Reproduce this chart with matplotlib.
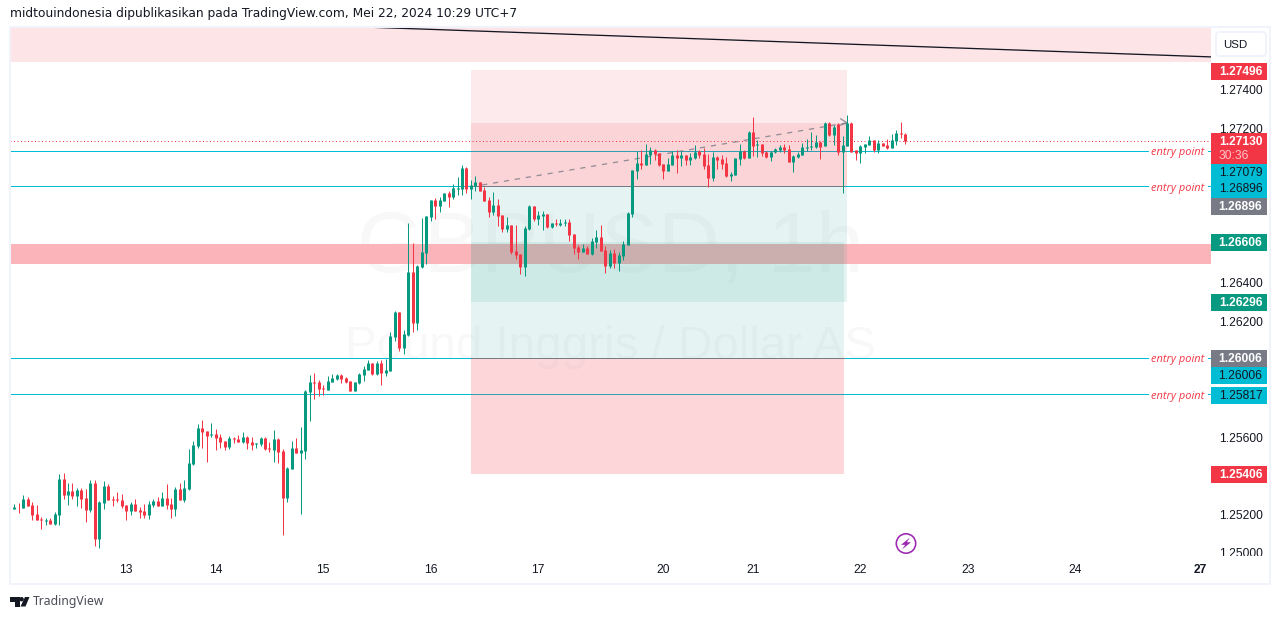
import numpy as np
from matplotlib import pyplot as plt
from matplotlib.patches import Rectangle, FancyBboxPatch, Circle, Polygon
from matplotlib.transforms import ScaledTranslation

# GBPUSD 1h candles, in 1/100000 of a price unit
opens = [125224,125234,125229,125276,125245,125198,125172,125162,125167,125146,
         125193,125380,125297,125317,125292,125323,125281,125219,125359,125069,
         125255,125343,125276,125276,125271,125245,125214,125250,125219,125214,
         125193,125245,125266,125240,125281,125250,125224,125328,125271,125328,
         125457,125550,125644,125628,125607,125613,125597,125576,125545,125592,
         125587,125571,125597,125571,125561,125561,125592,125540,125530,125587,
         125525,125281,125431,125540,125514,125525,125830,125882,125882,125851,
         125841,125882,125898,125918,125903,125887,125836,125877,125918,125944,
         125981,125924,125981,125929,125939,126115,126245,126058,126126,126452,
         126188,126478,126550,126737,126825,126794,126820,126861,126841,126882,
         126882,126991,126882,126898,126918,126877,126825,126763,126799,126747,
         126675,126695,126561,126545,126478,126675,126794,126727,126743,126753,
         126686,126706,126696,126706,126711,126649,126582,126556,126577,126546,
         126608,126634,126566,126483,126551,126499,126535,126592,126753,126976,
         127017,127007,127058,127084,127069,127012,126976,127007,127058,127043,
         127058,127033,127043,127079,127064,127007,126939,127048,127037,127017,
         126949,126954,127037,127079,127043,127177,127110,127115,127074,127048,
         127074,127084,127100,127089,127022,127048,127058,127094,127100,127100,
         127125,127105,127224,127162,127219,127074,127105,127224,127084,127068,
         127100,127110,127136,127084,127120,127110,127094,127131,127172,127167]
highs = [125250,125253,125297,125286,125260,125245,125181,125176,125178,125209,
         125405,125411,125359,125359,125333,125333,125328,125374,125374,125264,
         125369,125354,125292,125312,125302,125245,125260,125276,125234,125250,
         125266,125276,125286,125312,125354,125281,125338,125359,125374,125535,
         125576,125664,125685,125628,125670,125639,125613,125576,125602,125597,
         125607,125623,125602,125597,125564,125597,125597,125571,125633,125592,
         125535,125442,125576,125592,125649,125841,125918,125929,125892,125867,
         125913,125924,125924,125924,125908,125887,125882,125929,125965,125996,
         125981,125991,125996,126001,126141,126250,126245,126152,126706,126602,
         126488,126732,126742,126825,126835,126841,126861,126872,126908,126944,
         127006,126996,126929,126949,126918,126892,126841,126866,126830,126747,
         126737,126695,126695,126545,126690,126799,126794,126768,126768,126753,
         126706,126727,126727,126727,126727,126649,126592,126597,126587,126629,
         126670,126696,126587,126566,126572,126556,126613,126763,126981,127079,
         127084,127115,127100,127090,127069,127012,127043,127079,127084,127079,
         127058,127069,127110,127084,127095,127064,127074,127053,127058,127048,
         126970,127043,127115,127084,127182,127255,127136,127115,127079,127079,
         127094,127110,127115,127110,127058,127074,127120,127141,127177,127162,
         127131,127229,127229,127213,127224,127156,127265,127229,127084,127110,
         127115,127156,127136,127136,127120,127141,127167,127188,127229,127172]
lows = [125224,125203,125229,125240,125167,125167,125121,125141,125146,125141,
        125141,125276,125245,125276,125240,125229,125157,125209,125032,125022,
        125224,125271,125240,125260,125229,125167,125193,125214,125178,125178,
        125172,125234,125240,125240,125224,125178,125188,125271,125260,125323,
        125452,125540,125540,125468,125597,125530,125540,125530,125535,125566,
        125571,125566,125535,125530,125540,125551,125530,125519,125468,125462,
        125089,125260,125431,125514,125198,125483,125680,125794,125810,125815,
        125841,125882,125893,125877,125877,125836,125836,125872,125887,125944,
        125918,125918,125867,125913,125939,126095,126043,126027,126120,126141,
        126152,126473,126493,126716,126727,126763,126820,126789,126830,126851,
        126851,126861,126830,126872,126872,126820,126737,126747,126690,126659,
        126659,126545,126519,126442,126431,126670,126717,126696,126670,126680,
        126680,126691,126691,126691,126613,126546,126520,126556,126546,126540,
        126577,126561,126447,126473,126473,126458,126515,126592,126737,126934,
        126986,127007,127012,127033,127002,126934,126976,127007,126965,127002,
        127007,127007,127038,127043,126986,126893,126924,126986,126986,126944,
        126923,126954,127006,127037,127043,127053,127048,127053,127043,127027,
        127068,127074,127068,127022,126970,127043,127058,127079,127084,127094,
        127037,127105,127156,127110,127058,126861,127105,127074,127032,127017,
        127068,127110,127074,127068,127105,127089,127094,127110,127146,127115]
closes = [125234,125231,125276,125240,125193,125167,125167,125167,125146,125198,
          125380,125297,125317,125292,125323,125276,125219,125359,125069,125260,
          125343,125271,125271,125271,125240,125214,125250,125214,125209,125193,
          125250,125266,125240,125281,125245,125224,125328,125271,125333,125462,
          125556,125644,125623,125602,125613,125592,125571,125545,125592,125587,
          125571,125597,125566,125556,125564,125592,125535,125535,125587,125519,
          125281,125437,125540,125514,125530,125835,125882,125877,125846,125846,
          125887,125903,125918,125898,125882,125836,125882,125924,125950,125981,
          125924,125981,125929,125944,126120,126245,126058,126131,126452,126188,
          126483,126556,126742,126825,126794,126825,126861,126841,126887,126887,
          126991,126882,126903,126918,126872,126820,126763,126799,126742,126675,
          126695,126556,126540,126478,126680,126794,126727,126748,126753,126686,
          126706,126701,126706,126711,126644,126577,126556,126577,126546,126613,
          126634,126561,126483,126551,126499,126540,126597,126758,126981,127017,
          127007,127064,127084,127064,127007,126976,127012,127058,127043,127058,
          127033,127048,127074,127058,127002,126939,127048,127033,127011,126949,
          126960,127043,127079,127043,127177,127105,127115,127068,127048,127074,
          127089,127100,127084,127022,127053,127063,127100,127100,127105,127125,
          127100,127224,127162,127203,127074,127110,127224,127074,127068,127105,
          127115,127136,127084,127120,127105,127094,127136,127172,127167,127131]

day_ticks = [25, 45, 69, 93, 117, 145, 165, 189, 213, 237, 265]
day_labels = ['13', '14', '15', '16', '17', '20', '21', '22', '23', '24', '27']
price_ticks = [1.274, 1.272, 1.264, 1.262, 1.256, 1.252, 1.25]

entry_levels = [1.27079, 1.26896, 1.26006, 1.25817]
last_price = 1.2713

tag_texts = ['1.27496', '1.27079', '1.26896', '1.26896', '1.26606', '1.26296', '1.26006', '1.26006', '1.25817', '1.25406']
tag_centers = [71.5, 172, 189, 206.5, 242.5, 302.5, 358.5, 375.5, 395.5, 474.5]
tag_colors = ['#F23645', '#00BCD4', '#00BCD4', '#787B86', '#089981', '#089981', '#787B86', '#00BCD4', '#00BCD4', '#F23645']

GREEN = '#089981'
RED = '#F23645'
CYAN = '#00BCD4'
GREY = '#787B86'
FONT = 'Liberation Sans'
PX = 0.72  # font px to pt at dpi 100

o = np.array(opens) / 1e5
h = np.array(highs) / 1e5
l = np.array(lows) / 1e5
c = np.array(closes) / 1e5
x = np.arange(len(o))
up = c >= o

fig = plt.figure(figsize=(12.81, 6.19), dpi=100)
ax = fig.add_axes([10 / 1281, 63 / 619, 1201 / 1281, 529 / 619])
ax.set_xlim(-0.96, 267.3)
ax.set_ylim(1.24979, 1.27721)
for s in ax.spines.values():
    s.set_visible(False)

ax.set_xticks(day_ticks, day_labels, fontsize=12 * PX, color='#131722', family=FONT)
ax.get_xticklabels()[-1].set_fontweight('bold')
ax.tick_params(axis='x', length=0, pad=6)
ax.yaxis.tick_right()
ax.set_yticks(price_ticks, ['%.5f' % p for p in price_ticks], fontsize=12 * PX, color='#131722', family=FONT)
ax.tick_params(axis='y', length=0, pad=6)
nudge = ScaledTranslation(0, -1 / 100, fig.dpi_scale_trans)
for lab in ax.get_yticklabels():
    lab.set_transform(lab.get_transform() + nudge)

# watermark
ax.text(0.5, 0.578, 'GBPUSD, 1h', transform=ax.transAxes, ha='center', va='center',
        fontsize=86 * PX, color='#F8F8F9', family=FONT, zorder=0)
ax.text(0.5, 0.395, 'Pound Inggris / Dollar AS', transform=ax.transAxes, ha='center', va='center',
        fontsize=47.5 * PX, color='#F8F8F9', family=FONT, zorder=0)

# zones
ax.axhspan(1.2754, 1.27721, color='#FDE4E6', lw=0, zorder=1)
ax.axhspan(1.26493, 1.26597, color='#FBB4BA', lw=0, zorder=1)

# horizontal levels, broken where the label sits
for lev in entry_levels:
    ax.plot([-0.96, 253.2], [lev, lev], color=CYAN, lw=1 * PX, zorder=2)
    ax.plot([266.6, 267.3], [lev, lev], color=CYAN, lw=1 * PX, zorder=2)
    ax.text(259.9, lev - 0.0001, 'entry point', color=RED, fontsize=11 * PX, style='italic',
            family='Open Sans', ha='center', va='center', zorder=6)
ax.plot([-0.96, 267.3], [last_price, last_price], color=RED, lw=1 * PX, ls=(0, (1, 2.5)), zorder=2)

# position tools
ax.fill_between([102, 186], 1.26896, 1.27496, color=RED, alpha=0.1, lw=0, zorder=3)
ax.fill_between([102, 186], 1.26896, 1.27224, color=RED, alpha=0.12, lw=0, zorder=3)
ax.fill_between([102, 186], 1.26296, 1.26896, color=GREEN, alpha=0.1, lw=0, zorder=3)
ax.fill_between([102, 185.3], 1.26006, 1.26606, color=GREEN, alpha=0.1, lw=0, zorder=3)
ax.fill_between([102, 185.3], 1.25406, 1.26006, color=RED, alpha=0.2, lw=0, zorder=3)
ax.plot([102, 185.3], [1.26896, 1.26896], color=GREY, lw=1 * PX, zorder=4)
ax.plot([102, 185.3], [1.26006, 1.26006], color=GREY, lw=1 * PX, zorder=4)

# trend lines
ax.plot([78, 267.3], [1.27721, 1.27566], color='#131722', lw=1.3 * PX, zorder=4)
ax.plot([104.5, 186], [1.26902, 1.27224], color=GREY, lw=1.3 * PX, ls=(0, (4, 4.5)), alpha=0.8, zorder=4)
ax.plot([184.6, 186, 184.2], [1.27245, 1.27224, 1.2721], color=GREY, lw=1.3 * PX, alpha=0.8, zorder=4)

# candles: wick, then body as a thicker line so every body keeps the same width
ax.vlines(x[up], l[up], h[up], color=GREEN, lw=1 * PX, zorder=5)
ax.vlines(x[~up], l[~up], h[~up], color=RED, lw=1 * PX, zorder=5)
ax.vlines(x[up], o[up], c[up], color=GREEN, lw=3 * PX, zorder=5, capstyle='butt')
ax.vlines(x[~up], c[~up], o[~up], color=RED, lw=3 * PX, zorder=5, capstyle='butt')

# overlay in pixels for the frame, tags and header
ov = fig.add_axes([0, 0, 1, 1], zorder=10)
ov.set_xlim(0, 1281)
ov.set_ylim(619, 0)
ov.axis('off')
ov.patch.set_alpha(0)

ov.add_patch(Rectangle((1212, 555.5), 56, 7, fc='white', lw=0))
ov.add_patch(Rectangle((10, 27), 1260, 557, fill=False, ec='#F0F3FA', lw=2 * PX))

ov.add_patch(FancyBboxPatch((1216, 32), 50, 24, boxstyle='round,pad=0,rounding_size=4', fc='white', ec='#F0F3FA', lw=2 * PX))
ov.text(1235, 44.5, 'USD', ha='center', va='center', fontsize=11.5 * PX, color='#131722', family=FONT)

for t, yc, col in zip(tag_texts, tag_centers, tag_colors):
    ov.add_patch(Rectangle((1211, yc - 8.7), 56, 17.4, fc=col, lw=0))
    dark = col == CYAN
    ov.text(1240.5, yc + 0.5, t, ha='center', va='center', fontsize=12 * PX, family=FONT,
            color='#131722' if dark else 'white', weight='normal' if dark else 'bold')

# countdown tag
ov.add_patch(Rectangle((1211, 133), 56, 30.5, fc=RED, lw=0))
ov.text(1240.5, 142, '1.27130', ha='center', va='center', fontsize=12 * PX, family=FONT, color='white', weight='bold')
ov.text(1233.5, 156, '30:36', ha='center', va='center', fontsize=12 * PX, family=FONT, color='#FBC4C9')

ov.text(10, 14, 'midtouindonesia dipublikasikan pada TradingView.com, Mei 22, 2024 10:29 UTC+7',
        ha='left', va='center', fontsize=12.3 * PX, color='#131722', family='DejaVu Sans')

# flash icon
ov.add_patch(Circle((906, 543.5), 9.7, fc='white', ec='#9C27B0', lw=1.6 * PX))
ov.add_patch(Polygon([(910, 537.5), (901, 544.8), (905.2, 544.8), (902, 549.5), (911, 542.2), (906.8, 542.2)], fc='#9C27B0', lw=0))

# logo
ov.add_patch(Polygon([(10, 597), (19.5, 597), (19.5, 606.5), (15, 606.5), (15, 601.5), (10, 601.5)], fc='#131722', lw=0))
ov.add_patch(Circle((21.6, 599.2), 2.2, fc='#131722', lw=0))
ov.add_patch(Polygon([(25, 597), (29.5, 597), (25.5, 606.5), (20.5, 606.5)], fc='#131722', lw=0))
ov.text(33, 601.5, 'TradingView', ha='left', va='center', fontsize=12.2 * PX, color='#4A4D57', family='Noto Sans')

fig.savefig('out.png', dpi=100)
